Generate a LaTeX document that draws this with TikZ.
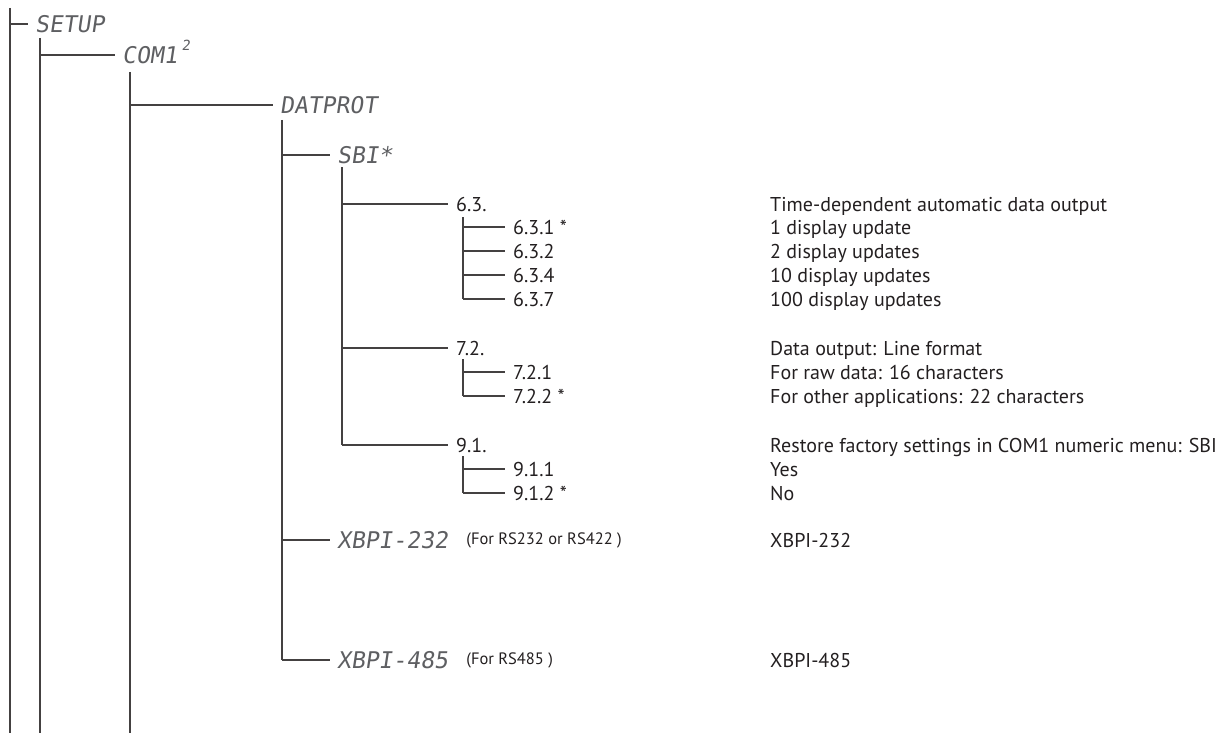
\documentclass[tikz,border=0pt]{standalone}
\usepackage{fontspec}
\setmainfont{PT Sans}
\newfontfamily\segfont[FakeSlant=0.15]{DejaVu Sans Mono}
\definecolor{ink}{HTML}{231F20}
\definecolor{segc}{HTML}{5E5F62}
\begin{document}
\begin{tikzpicture}[x=1pt,y=-1pt,
  tl/.style={draw=ink!85, line width=1.2pt},
  lab/.style={anchor=west, inner xsep=8pt, inner ysep=0pt, text height=14pt, text depth=0pt, font=\fontsize{20}{24}\selectfont, text=ink},
  desc/.style={anchor=west, inner sep=0pt, text height=14pt, text depth=0pt, font=\fontsize{20}{24}\selectfont, text=ink},
  segl/.style={anchor=west, inner xsep=7pt, inner ysep=0pt, text height=17pt, text depth=0pt, font=\segfont\fontsize{23}{24}\selectfont, text=segc},
  note/.style={anchor=west, inner sep=0pt, font=\fontsize{16.5}{18}\selectfont, text=ink}]
\useasboundingbox (0,0) rectangle (1222,733);

% main verticals
\coordinate (v1t) at (10,8);    \coordinate (v1b) at (10,733);
\coordinate (v2t) at (40,38);   \coordinate (v2b) at (40,733);
\coordinate (v3t) at (130,72);  \coordinate (v3b) at (130,733);
\coordinate (v4t) at (282,120); \coordinate (v4b) at (282,660);
\coordinate (v5t) at (342,167); \coordinate (v5b) at (342,445);
\coordinate (s63t) at (463,217); \coordinate (s63b) at (463,299);
\coordinate (s72t) at (463,359); \coordinate (s72b) at (463,396);
\coordinate (s91t) at (463,456); \coordinate (s91b) at (463,493);
\draw[tl] (v1t) -- (v1b);
\draw[tl] (v2t) -- (v2b);
\draw[tl] (v3t) -- (v3b);
\draw[tl] (v4t) -- (v4b);
\draw[tl] (v5t) -- (v5b);
\draw[tl] (s63t) -- (s63b);
\draw[tl] (s72t) -- (s72b);
\draw[tl] (s91t) -- (s91b);

% segment-display labels
\node[segl] (setup) at (28,24) {SETUP};
\node[segl] (com) at (115,55) {COM1\hspace{4pt}\raisebox{0.55em}{\fontsize{14}{14}\selectfont 2}};
\node[segl] (dat) at (273,105) {DATPROT};
\node[segl] (sbi) at (330,155) {SBI*};
\node[segl] (x232) at (330,540) {XBPI-232};
\node[segl] (x485) at (330,660) {XBPI-485};
\node[note] (n232) at ([xshift=11pt]x232.east) {(For RS232 or RS422 )};
\node[note] (n485) at ([xshift=11pt]x485.east) {(For RS485 )};

\draw[tl] (v1t |- setup.west) -- (setup.west);
\draw[tl] (v2t |- com.west) -- (com.west);
\draw[tl] (v3t |- dat.west) -- (dat.west);
\draw[tl] (v4t |- sbi.west) -- (sbi.west);
\draw[tl] (v4t |- x232.west) -- (x232.west);
\draw[tl] (v4b) -- (x485.west);

% numeric menu labels
\node[lab] (m63) at (448,204) {6.3.};
\node[lab] (m631) at (505,227) {6.3.1 *};
\node[lab] (m632) at (505,251) {6.3.2};
\node[lab] (m634) at (505,275) {6.3.4};
\node[lab] (m637) at (505,299) {6.3.7};
\node[lab] (m72) at (448,348) {7.2.};
\node[lab] (m721) at (505,372) {7.2.1};
\node[lab] (m722) at (505,396) {7.2.2 *};
\node[lab] (m91) at (448,445) {9.1.};
\node[lab] (m911) at (505,469) {9.1.1};
\node[lab] (m912) at (505,493) {9.1.2 *};

\draw[tl] (v5t |- m63.west) -- (m63.west);
\draw[tl] (v5t |- m72.west) -- (m72.west);
\draw[tl] (v5b) -- (m91.west);
\draw[tl] (s63t |- m631.west) -- (m631.west);
\draw[tl] (s63t |- m632.west) -- (m632.west);
\draw[tl] (s63t |- m634.west) -- (m634.west);
\draw[tl] (s63b) -- (m637.west);
\draw[tl] (s72t |- m721.west) -- (m721.west);
\draw[tl] (s72b) -- (m722.west);
\draw[tl] (s91t |- m911.west) -- (m911.west);
\draw[tl] (s91b) -- (m912.west);

% descriptions
\node[desc] (d63) at (770,204) {Time-dependent automatic data output};
\node[desc] (d631) at (770,227) {1 display update};
\node[desc] (d632) at (770,251) {2 display updates};
\node[desc] (d634) at (770,275) {10 display updates};
\node[desc] (d637) at (770,299) {100 display updates};
\node[desc] (d72) at (770,348) {Data output: Line format};
\node[desc] (d721) at (770,372) {For raw data: 16 characters};
\node[desc] (d722) at (770,396) {For other applications: 22 characters};
\node[desc] (d91) at (770,445) {Restore factory settings in COM1 numeric menu: SBI};
\node[desc] (d911) at (770,469) {Yes};
\node[desc] (d912) at (770,493) {No};
\node[desc] (d232) at (770,540) {XBPI-232};
\node[desc] (d485) at (770,660) {XBPI-485};
\end{tikzpicture}
\end{document}
